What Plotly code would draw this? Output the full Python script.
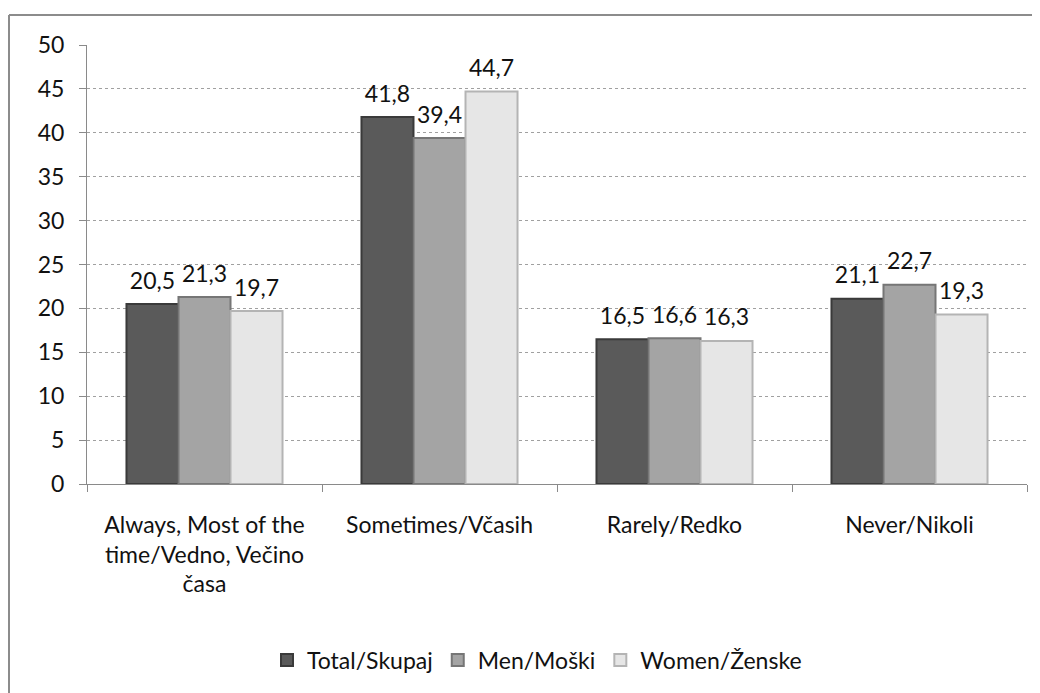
import plotly.graph_objects as go

categories = ["Always, Most of the<br>time/Vedno, Večino<br>časa", "Sometimes/Včasih", "Rarely/Redko", "Never/Nikoli"]
series_names = ["Total/Skupaj", "Men/Moški", "Women/Ženske"]
total = [20.5, 41.8, 16.5, 21.1]
men = [21.3, 39.4, 16.6, 22.7]
women = [19.7, 44.7, 16.3, 19.3]
y_ticks = [0, 5, 10, 15, 20, 25, 30, 35, 40, 45, 50]

fills = ["#5a5a5a", "#a4a4a4", "#e6e6e6"]
edges = ["#3a3a3a", "#767676", "#b4b4b4"]
font_family = "Lato, Calibri, 'Open Sans', sans-serif"

fig = go.Figure()
for name, vals, fc, ec in zip(series_names, [total, men, women], fills, edges):
    fig.add_trace(go.Bar(
        x=categories, y=vals, name=name,
        marker=dict(color=fc, line=dict(color=ec, width=2)),
        text=[f"{v:.1f}".replace(".", ",") for v in vals],
        texttemplate="<span style='font-size:23px'>%{text}</span><br> ",
        textposition="outside", cliponaxis=False,
        textfont=dict(size=8, color="#111", family=font_family),
    ))

# page body adds an 8px offset; figure sized to compensate
W, H = 1032, 685
l, r, t, b = 79, 13, 37, 209
ph = H - t - b
pw = W - l - r

fx0 = (1 - l) / pw
fx1 = (W + 20 - l) / pw
fy0 = (b + 20) / -ph
fy1 = 1 + (t - 7) / ph
frame = dict(color="#8c8c8c", width=2)

fig.update_layout(
    width=W, height=H,
    margin=dict(l=l, r=r, t=t, b=b, autoexpand=False),
    paper_bgcolor="white", plot_bgcolor="white",
    barmode="group", bargap=0.336, bargroupgap=0,
    font=dict(family=font_family, size=23, color="#111"),
    showlegend=True,
    legend=dict(orientation="h", x=(529 - l) / pw, xanchor="center",
                y=(476 - 652) / ph, yanchor="middle",
                font=dict(size=23), itemwidth=30, traceorder="normal"),
    xaxis=dict(showline=True, linecolor="#8a8a8a", linewidth=1,
               ticks="outside", tickson="boundaries", ticklen=7, tickcolor="#8a8a8a",
               tickfont=dict(size=23), ticklabelstandoff=20, showgrid=False),
    yaxis=dict(range=[0, 50], tickvals=y_ticks, showline=True, linecolor="#8a8a8a", linewidth=1,
               ticks="outside", ticklen=7, tickcolor="#8a8a8a",
               showgrid=True, gridcolor="#a0a0a0", griddash="dot", gridwidth=1,
               tickfont=dict(size=23), zeroline=False, ticklabelstandoff=10),
    shapes=[
        dict(type="line", xref="paper", yref="paper", x0=fx0, x1=fx1, y0=fy1, y1=fy1, line=frame, layer="below"),
        dict(type="line", xref="paper", yref="paper", x0=fx0, x1=fx0, y0=fy0, y1=fy1, line=frame, layer="below"),
    ],
)

fig.write_html("out.html")
